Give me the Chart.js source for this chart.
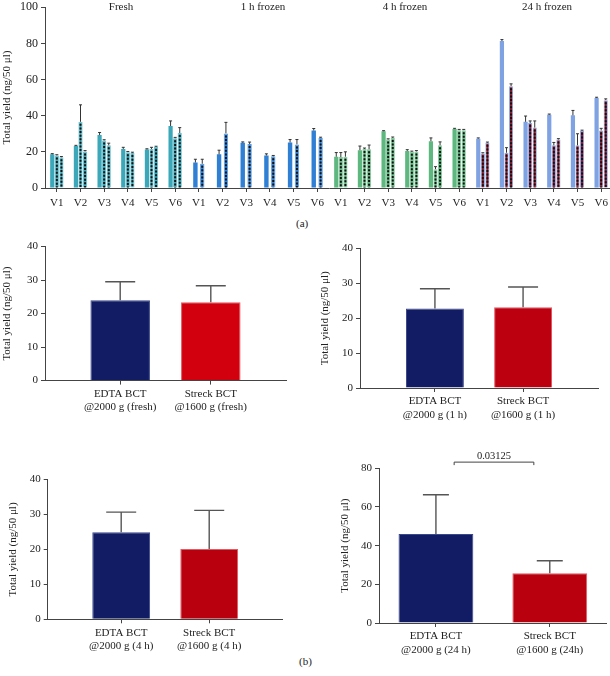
<!DOCTYPE html>
<html>
<head>
<meta charset="utf-8">
<script src="https://cdn.jsdelivr.net/npm/chart.js@4.4.1/dist/chart.umd.min.js"></script>
<style>
html, body { margin: 0; padding: 0; background: #fff; width: 610px; height: 676px; overflow: hidden; }
body { position: relative; font-family: 'Liberation Serif', 'Times New Roman', serif; }
canvas { position: absolute; }
.tag { position: absolute; font-size: 11px; color: #222; }
</style>
</head>
<body>
<canvas id="chart-a" width="616" height="215" style="left:0;top:-3px"></canvas>
<div class="tag" style="left:296px;top:217px">(a)</div>
<canvas id="chart-fresh" width="300" height="181" style="left:0;top:237px"></canvas>
<canvas id="chart-1h" width="290" height="187" style="left:318px;top:239px"></canvas>
<canvas id="chart-4h" width="290" height="190" style="left:6px;top:470px"></canvas>
<canvas id="chart-24h" width="272" height="222" style="left:338px;top:440px"></canvas>
<div class="tag" style="left:299px;top:655px">(b)</div>
<script>
// --- Panel (a): yield per donor and storage time ---
const groupNames = ['Fresh', '1 h frozen', '4 h frozen', '24 h frozen'];
const donorLabels = ['V1', 'V2', 'V3', 'V4', 'V5', 'V6'];

const solidValues = [18.6, 23.2, 29.3, 21.6, 21.3, 34.3,
                     14.1, 18.6, 25.0, 18.0, 25.2, 31.8,
                     17.3, 20.9, 31.4, 20.5, 25.9, 32.7,
                     27.3, 81.3, 36.6, 40.5, 40.2, 49.8];
const solidErrors = [0.4, 0.4, 1.4, 0.9, 0.4, 2.8,
                     1.8, 2.3, 0.5, 0.9, 1.6, 1.1,
                     2.3, 2.3, 0.3, 0.7, 1.8, 0.3,
                     0.4, 0.8, 3.2, 0.4, 2.7, 0.4];
const dotsAValues = [18.0, 36.6, 26.3, 19.8, 21.6, 27.5,
                     13.4, 30.2, 24.3, 17.5, 24.1, 27.7,
                     17.1, 21.6, 26.8, 20.0, 10.4, 32.0,
                     19.1, 19.5, 35.9, 23.6, 23.6, 31.8];
const dotsAErrors = [0.4, 9.4, 0.4, 0.4, 0.9, 0.5,
                     2.5, 6.1, 1.1, 0.5, 2.7, 0.4,
                     2.5, 0.5, 0.4, 0.4, 1.4, 0.4,
                     0.4, 2.8, 1.2, 1.6, 6.4, 1.2];
const dotsBValues = [17.0, 20.2, 23.6, 19.3, 22.7, 30.4,
                     null, null, null, null, null, null,
                     17.3, 21.4, 27.7, 20.2, 23.6, 32.0,
                     25.0, 56.3, 33.4, 26.8, 31.6, 48.6];
const dotsBErrors = [0.4, 0.5, 1.2, 0.5, 0.4, 3.0,
                     0, 0, 0, 0, 0, 0,
                     2.7, 2.35, 0.5, 0.5, 1.9, 0.4,
                     0.4, 1.3, 3.7, 0.5, 0.4, 0.7];

// --- Panel (b): mean yield per tube type ---
const freshLabels = [['EDTA BCT', '@2000 g (fresh)'], ['Streck BCT', '@1600 g (fresh)']];
const freshMeans = [24.0, 23.4];
const freshSD = [5.5, 4.9];
const oneHourLabels = [['EDTA BCT', '@2000 g (1 h)'], ['Streck BCT', '@1600 g (1 h)']];
const oneHourMeans = [22.8, 23.2];
const oneHourSD = [5.7, 5.8];
const fourHourLabels = [['EDTA BCT', '@2000 g (4 h)'], ['Streck BCT', '@1600 g (4 h)']];
const fourHourMeans = [24.9, 20.1];
const fourHourSD = [5.8, 11.1];
const dayLabels = [['EDTA BCT', '@2000 g (24 h)'], ['Streck BCT', '@1600 g (24h)']];
const dayMeans = [46.0, 25.7];
const daySD = [20.3, 6.5];
const dayPValue = '0.03125';

const yTitle = 'Total yield (ng/50 \u03bcl)';

Chart.defaults.font.family = "'Liberation Serif', 'Times New Roman', serif";
Chart.defaults.font.size = 11;
Chart.defaults.color = '#222';

// error bars (up only) and dotted fill lines
const barMarks = {
    id: 'barMarks',
    afterDatasetsDraw(chart, args, opts) {
        const ctx = chart.ctx;
        const yScale = chart.scales.y;
        chart.data.datasets.forEach((ds, di) => {
            const meta = chart.getDatasetMeta(di);
            meta.data.forEach((bar, i) => {
                const p = meta.controller.getParsed(i);
                if (!p || p.y === null || isNaN(p.y)) return;
                ctx.save();
                if (ds.dotted) {
                    ctx.strokeStyle = '#111';
                    ctx.lineWidth = 2;
                    ctx.setLineDash([2, 1.6]);
                    ctx.beginPath();
                    ctx.moveTo(bar.x, bar.y + 2);
                    ctx.lineTo(bar.x, bar.base);
                    ctx.stroke();
                    ctx.setLineDash([]);
                }
                const err = ds.errors ? ds.errors[i] : 0;
                if (err) {
                    const yTop = yScale.getPixelForValue(p.y + err);
                    ctx.strokeStyle = opts.color;
                    ctx.lineWidth = opts.width;
                    ctx.beginPath();
                    ctx.moveTo(bar.x, bar.y);
                    ctx.lineTo(bar.x, yTop);
                    ctx.moveTo(bar.x - opts.cap, yTop);
                    ctx.lineTo(bar.x + opts.cap, yTop);
                    ctx.stroke();
                }
                ctx.restore();
            });
        });
    }
};

const groupTitles = {
    id: 'groupTitles',
    afterDraw(chart, args, opts) {
        if (!opts.names) return;
        const ctx = chart.ctx;
        const x = chart.scales.x;
        ctx.save();
        ctx.font = "11px 'Liberation Serif', serif";
        ctx.fillStyle = '#222';
        ctx.textAlign = 'center';
        ctx.textBaseline = 'middle';
        opts.names.forEach((name, g) => {
            const cx = (x.getPixelForValue(g * 6) + x.getPixelForValue(g * 6 + 5)) / 2 + 5;
            ctx.fillText(name, cx, opts.y);
        });
        ctx.restore();
    }
};

const sigBracket = {
    id: 'sigBracket',
    afterDraw(chart, args, opts) {
        if (!opts.label) return;
        const ctx = chart.ctx;
        const x1 = chart.scales.x.getPixelForValue(opts.from);
        const x2 = chart.scales.x.getPixelForValue(opts.to);
        const y = chart.scales.y.getPixelForValue(opts.level);
        ctx.save();
        ctx.strokeStyle = '#444';
        ctx.lineWidth = 1;
        ctx.beginPath();
        ctx.moveTo(x1, y + 3);
        ctx.lineTo(x1, y);
        ctx.lineTo(x2, y);
        ctx.lineTo(x2, y + 3);
        ctx.stroke();
        ctx.font = "10.5px 'Liberation Serif', serif";
        ctx.fillStyle = '#222';
        ctx.textAlign = 'center';
        ctx.textBaseline = 'bottom';
        ctx.fillText(opts.label, (x1 + x2) / 2, y - 1);
        ctx.restore();
    }
};

// --- Panel (a) ---
const solidColors = ['#3ba7b9', '#2f80d5', '#5db77f', '#7fa2e3'];
const dotColors = ['#3ba7b9', '#2f80d5', '#5db77f', '#9a1c30'];
const dotBorders = ['#6cc3d0', '#5a9be0', '#86cb9e', '#8fb0ea'];
const categories = groupNames.flatMap(() => donorLabels);
const groupOf = i => Math.floor(i / 6);

function axisGrid() {
    return { display: true, drawOnChartArea: false, drawTicks: true, tickLength: 4, color: '#444', offset: false };
}

new Chart(document.getElementById('chart-a'), {
    type: 'bar',
    data: {
        labels: categories,
        datasets: [
            { data: solidValues, errors: solidErrors,
              backgroundColor: categories.map((c, i) => solidColors[groupOf(i)]), borderWidth: 0 },
            { data: dotsAValues, errors: dotsAErrors, dotted: true,
              backgroundColor: categories.map((c, i) => dotColors[groupOf(i)]),
              borderColor: categories.map((c, i) => dotBorders[groupOf(i)]), borderWidth: 1 },
            { data: dotsBValues, errors: dotsBErrors, dotted: true,
              backgroundColor: categories.map((c, i) => dotColors[groupOf(i)]),
              borderColor: categories.map((c, i) => dotBorders[groupOf(i)]), borderWidth: 1 }
        ]
    },
    options: {
        responsive: false,
        animation: false,
        layout: { padding: { top: 7, right: 3, left: 0, bottom: 0 } },
        datasets: { bar: { skipNull: true, categoryPercentage: 0.58, barPercentage: 0.92, maxBarThickness: 4.4 } },
        plugins: {
            legend: { display: false },
            tooltip: { enabled: false },
            barMarks: { color: '#333', width: 1, cap: 1.5 },
            groupTitles: { names: groupNames, y: 10.5 }
        },
        scales: {
            x: {
                offset: true,
                grid: axisGrid(),
                border: { color: '#444' },
                ticks: { autoSkip: false, maxRotation: 0, padding: 5 },
                afterFit: s => { s.height = 24; }
            },
            y: {
                min: 0, max: 100,
                ticks: { stepSize: 20, padding: 3, font: { size: 12 } },
                grid: axisGrid(),
                border: { color: '#444' },
                title: { display: true, text: yTitle, padding: { top: 1, bottom: 0 } },
                afterFit: s => { s.width = 45; }
            }
        }
    },
    plugins: [barMarks, groupTitles]
});

// --- Panel (b) ---
function makePanel(id, labels, means, sds, streckColor, cfg) {
    return new Chart(document.getElementById(id), {
        type: 'bar',
        data: {
            datasets: [{
                data: means.map((m, i) => ({ x: i + 1, y: m })),
                errors: sds,
                backgroundColor: ['#121c64', streckColor],
                borderColor: ['#3a4788', '#e05a62'],
                borderWidth: 1,
                categoryPercentage: 0.73,
                barPercentage: 0.9
            }]
        },
        options: {
            responsive: false,
            animation: false,
            layout: { padding: { top: cfg.padTop, right: cfg.padRight, left: 0, bottom: 0 } },
            plugins: {
                legend: { display: false },
                tooltip: { enabled: false },
                barMarks: { color: '#555', width: 1.4, cap: cfg.cap },
                sigBracket: cfg.bracket || {}
            },
            scales: {
                x: {
                    type: 'linear',
                    min: cfg.xMin, max: cfg.xMax,
                    offset: false,
                    grid: axisGrid(),
                    border: { color: '#444' },
                    afterBuildTicks: s => { s.ticks = [{ value: 1 }, { value: 2 }]; },
                    ticks: { maxRotation: 0, autoSkip: false, padding: 3, callback: v => labels[v - 1] },
                    afterFit: s => { s.height = cfg.xHeight; }
                },
                y: {
                    min: 0, max: cfg.yMax,
                    ticks: { stepSize: cfg.yStep, padding: 3 },
                    grid: axisGrid(),
                    border: { color: '#444' },
                    title: { display: true, text: yTitle, padding: { top: 1, bottom: 0 } },
                    afterFit: s => { s.width = cfg.yWidth; }
                }
            }
        },
        plugins: [barMarks, sigBracket]
    });
}

makePanel('chart-fresh', freshLabels, freshMeans, freshSD, '#d2000e',
    { yMax: 40, yStep: 10, xMin: 0.17, xMax: 2.83, yWidth: 45, xHeight: 37.4, padTop: 8, padRight: 14, cap: 15 });
makePanel('chart-1h', oneHourLabels, oneHourMeans, oneHourSD, '#bd0010',
    { yMax: 40, yStep: 10, xMin: 0.15, xMax: 2.85, yWidth: 42, xHeight: 38, padTop: 7.7, padRight: 10, cap: 15 });
makePanel('chart-4h', fourHourLabels, fourHourMeans, fourHourSD, '#b9000f',
    { yMax: 40, yStep: 10, xMin: 0.165, xMax: 2.835, yWidth: 41.7, xHeight: 40.7, padTop: 8.3, padRight: 13.3, cap: 15 });
makePanel('chart-24h', dayLabels, dayMeans, daySD, '#b9000f',
    { yMax: 80, yStep: 20, xMin: 0.5, xMax: 2.5, yWidth: 41, xHeight: 39, padTop: 28.3, padRight: 3.3, cap: 13,
      bracket: { from: 1.16, to: 1.86, level: 83.2, label: dayPValue } });
</script>
</body>
</html>
